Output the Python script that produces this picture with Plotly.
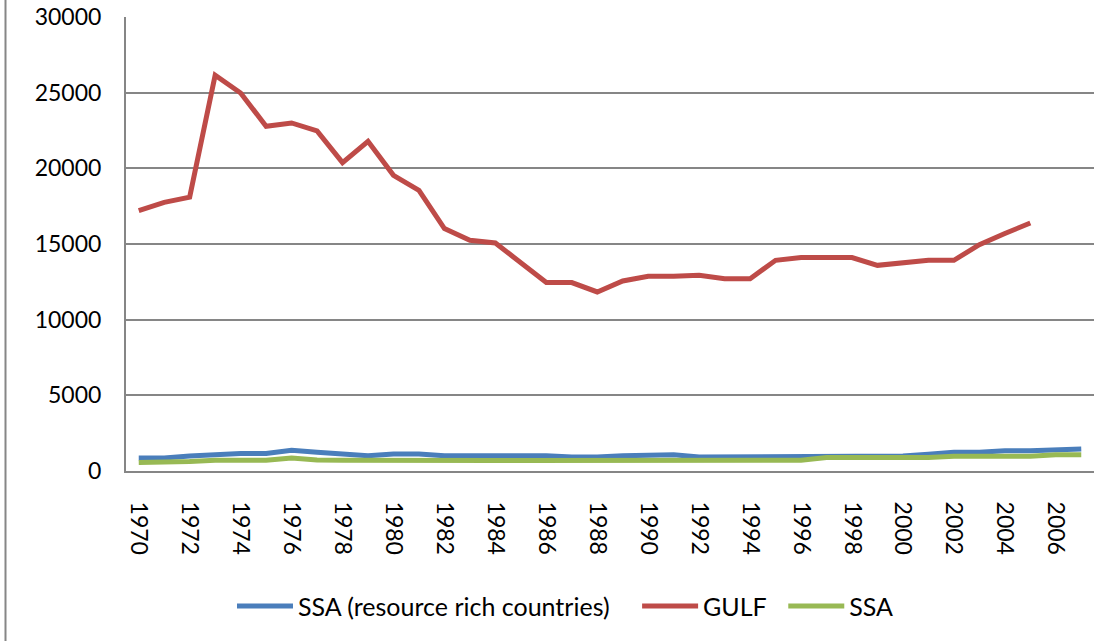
import plotly.graph_objects as go

# ---- data ----
years = list(range(1970, 2008))

ssa_rich = [860, 860, 990, 1080, 1150, 1150, 1370, 1235, 1125, 1015,
            1125, 1125, 1015, 1015, 1015, 1015, 1015, 925, 925, 1015,
            1080, 1080, 925, 925, 925, 925, 925, 990, 990, 990,
            990, 1100, 1235, 1235, 1345, 1345, 1370, 1455]

gulf = [17200, 17750, 18100, 26150, 24980, 22780, 23000, 22470, 20380, 21790,
        19540, 18540, 16020, 15245, 15070, 13745, 12450, 12450, 11830, 12555,
        12865, 12865, 12930, 12710, 12710, 13920, 14100, 14100, 14100, 13590,
        13790, 13920, 13920, 14960, 15690, 16390, None, None]

ssa = [555, 555, 620, 705, 705, 705, 860, 725, 705, 690,
       690, 690, 690, 690, 690, 690, 690, 690, 690, 705,
       705, 705, 705, 705, 705, 705, 705, 885, 885, 885,
       885, 885, 970, 970, 970, 970, 1080, 1080]

series_names = ["SSA (resource rich countries)", "GULF", "SSA"]
colors = ["#4A7EBB", "#BE4B48", "#98B954"]
legend_ids = ["legend", "legend2", "legend3"]
legend_x = [0.1095, 0.528, 0.679]   # paper x of each legend entry

FONT = "Lato"
GRID = "#868686"

fig = go.Figure()
for name, vals, col, lg in zip(series_names, [ssa_rich, gulf, ssa], colors, legend_ids):
    fig.add_trace(go.Scatter(x=years, y=vals, mode="lines", name=name,
                             line=dict(color=col, width=5),
                             connectgaps=False, legend=lg))

legend_style = dict(orientation="h", y=-0.298, xanchor="left", yanchor="middle",
                    font=dict(family=FONT, size=25), bgcolor="rgba(0,0,0,0)",
                    itemwidth=56)

fig.update_layout(
    width=1117, height=641,
    margin=dict(l=126, r=23, t=17, b=170),
    paper_bgcolor="white", plot_bgcolor="white",
    font=dict(family=FONT, size=23, color="black"),
    showlegend=True,
    legend=dict(x=legend_x[0], **legend_style),
    legend2=dict(x=legend_x[1], **legend_style),
    legend3=dict(x=legend_x[2], **legend_style),
)

fig.update_xaxes(range=[1969.5, 2007.5], tickmode="linear", tick0=1970, dtick=2,
                 tickangle=90, showgrid=False, zeroline=False,
                 showline=True, linecolor=GRID, linewidth=2,
                 ticks="", ticklabelstandoff=24, automargin=False)
fig.update_yaxes(range=[0, 30000], tickmode="linear", tick0=0, dtick=5000,
                 tickformat="d",
                 showgrid=True, gridcolor=GRID, gridwidth=1.5,
                 zeroline=False, showline=True, linecolor=GRID, linewidth=2,
                 ticks="", ticklabelstandoff=18, automargin=False)

# outer chart-area border on the left edge
fig.add_shape(type="line", xref="paper", yref="paper",
              x0=-120.5 / 968, x1=-120.5 / 968, y0=-170 / 454, y1=17 / 454 + 1,
              line=dict(color=GRID, width=2))

fig.write_html("out.html", config={"displayModeBar": False},
               post_script="document.body.style.margin='0';")
